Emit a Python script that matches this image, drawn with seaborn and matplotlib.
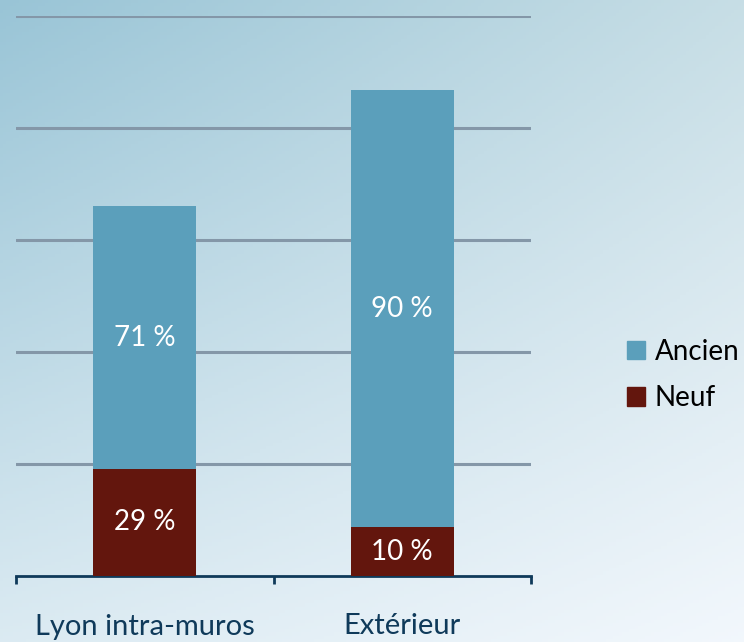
import numpy as np
import pandas as pd
import matplotlib
matplotlib.use("Agg")
import matplotlib.pyplot as plt
import seaborn as sns
from matplotlib.patches import Patch

categories = ["Lyon intra-muros", "Extérieur"]
totals = [3.30, 4.34]          # bar heights, in gridline units
share_neuf = [29, 10]          # % of each bar
share_ancien = [71, 90]

ancien_color = "#5b9fbb"
neuf_color = "#63160d"
text_dark = "#0f3a5a"

sns.set_theme(style="white")
plt.rcParams["font.family"] = ["Lato", "DejaVu Sans"]

df = pd.DataFrame({
    "cat": categories,
    "total": totals,
    "neuf": [t * s / 100 for t, s in zip(totals, share_neuf)],
    "ancien": [t * s / 100 for t, s in zip(totals, share_ancien)],
})

fig = plt.figure(figsize=(7.44, 6.42), dpi=100)

# soft diagonal gradient background
bg = fig.add_axes([0, 0, 1, 1], zorder=-10)
h, w = 200, 232
yy, xx = np.mgrid[0:1:h * 1j, 0:1:w * 1j]
tl = np.array([0.60, 0.77, 0.84])
tr = np.array([0.78, 0.87, 0.90])
bl = np.array([0.86, 0.92, 0.95])
br = np.array([0.95, 0.97, 0.99])
img = (tl * ((1 - xx) * (1 - yy))[..., None] + tr * (xx * (1 - yy))[..., None]
       + bl * ((1 - xx) * yy)[..., None] + br * (xx * yy)[..., None])
bg.imshow(img, aspect="auto", extent=[0, 1, 0, 1], origin="upper")
bg.axis("off")

ax = fig.add_axes([16 / 744, 66 / 642, 515 / 744, 560 / 642])
ax.patch.set_alpha(0)

sns.barplot(data=df, x="cat", y="total", color=ancien_color, width=0.4,
            saturation=1, ax=ax, zorder=3, linewidth=0, edgecolor="none")
sns.barplot(data=df, x="cat", y="neuf", color=neuf_color, width=0.4,
            saturation=1, ax=ax, zorder=4, linewidth=0, edgecolor="none")

ax.set_ylim(0, 5)
ax.set_xlim(-0.5, 1.5)
for yv in [1, 2, 3, 4, 5]:
    ax.axhline(yv, color="#8497a8", lw=2.2, zorder=1)

for i, row in df.iterrows():
    ax.text(i, row["neuf"] / 2, f"{share_neuf[i]} %", color="white",
            ha="center", va="center", fontsize=20, zorder=6)
    ax.text(i, row["neuf"] + row["ancien"] / 2, f"{share_ancien[i]} %",
            color="white", ha="center", va="center", fontsize=20, zorder=6)

for s in ["top", "right", "left"]:
    ax.spines[s].set_visible(False)
ax.spines["bottom"].set_color(text_dark)
ax.spines["bottom"].set_linewidth(2)
ax.set_yticks([])
ax.set_xlabel("")
ax.set_ylabel("")
ax.set_xticks([0, 1])
ax.set_xticklabels(categories, fontsize=21, color=text_dark)
ax.tick_params(axis="x", length=0, pad=27)
for xv in [-0.5, 0.5, 1.5]:
    ax.plot([xv, xv], [0, -0.07], color=text_dark, lw=2, clip_on=False,
            solid_capstyle="butt")

handles = [Patch(color=ancien_color), Patch(color=neuf_color)]
fig.legend(handles, ["Ancien", "Neuf"], loc="center left",
           bbox_to_anchor=(627 / 744, 1 - 375 / 642), frameon=False,
           fontsize=20, handlelength=0.65, handleheight=0.65,
           handletextpad=0.35, labelspacing=0.75, labelcolor="black",
           borderaxespad=0, borderpad=0)

fig.savefig("out.png", dpi=100)
